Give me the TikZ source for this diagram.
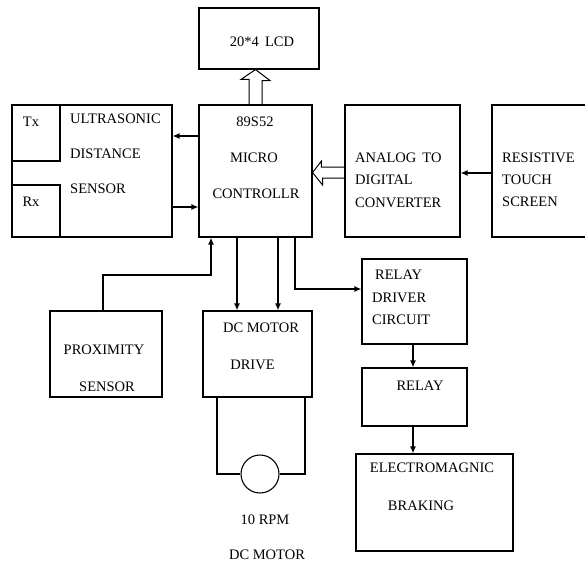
\documentclass[tikz,border=0pt]{standalone}
\usepackage{fontspec}
\setmainfont{Liberation Serif}
\usepackage{tikz}
\usetikzlibrary{arrows.meta,positioning,calc}

\begin{document}
\begin{tikzpicture}[
		x=1pt,y=-1pt,
		every node/.style={
			font=\fontsize{14.5}{16}\selectfont,
			inner sep=0pt
		},
		blk/.style={
			draw,
			line width=1.1pt
		},
		txt/.style={anchor=west},
		arr/.style={-{Latex[length=7pt,width=6pt]},line width=1.6pt},
		wire/.style={line width=1.1pt},
		hollow/.style={line width=1pt,line join=miter}
		]
		
		\clip (0,0) rectangle (585,566);
		
		% blocks
		\node[blk,minimum width=120,minimum height=61] (lcd) at (259,38.5) {};
		\node[blk,minimum width=113,minimum height=132] (mcu) at (255.5,171) {};
		\node[blk,minimum width=160,minimum height=132] (us) at (92,171) {};
		\node[blk,minimum width=48,minimum height=56] (tx) at (36,133) {};
		\node[blk,minimum width=48,minimum height=52] (rx) at (36,211) {};
		\node[blk,minimum width=115,minimum height=132] (adc) at (402.5,171) {};
		\node[blk,minimum width=118,minimum height=132] (touch) at (551,171) {};
		\node[blk,minimum width=112,minimum height=86] (prox) at (106,354) {};
		\node[blk,minimum width=109,minimum height=86] (drive) at (257.5,354) {};
		\node[blk,minimum width=105,minimum height=85] (rdrv) at (414.5,301.5) {};
		\node[blk,minimum width=105,minimum height=58] (relay) at (414.5,397) {};
		\node[blk,minimum width=157,minimum height=97] (emb) at (434.5,502.5) {};
		\node[draw,line width=1.1pt,circle,minimum size=38] (motor) at (260,474) {};
		
		% texts
		\node (lcdtxt) at (262,42) {20*4\, LCD};
		\node (txtxt) at (31,122) {Tx};
		\node (rxtxt) at (31,202) {Rx};
		\node[txt] (ustxt1) at (70,119) {ULTRASONIC};
		\node[txt] (ustxt2) at (70,154) {DISTANCE};
		\node[txt] (ustxt3) at (70,189) {SENSOR};
		\node (mcutxt1) at (255,122) {89S52};
		\node (mcutxt2) at (254,158) {MICRO};
		\node (mcutxt3) at (256,194) {CONTROLLR};
		\node[txt] (adctxt1) at (355,158) {ANALOG\, TO};
		\node[txt] (adctxt2) at (355,180) {DIGITAL};
		\node[txt] (adctxt3) at (355,203) {CONVERTER};
		\node[txt] (tchtxt1) at (502,158) {RESISTIVE};
		\node[txt] (tchtxt2) at (502,180) {TOUCH};
		\node[txt] (tchtxt3) at (502,202) {SCREEN};
		\node (proxtxt1) at (104,350) {PROXIMITY};
		\node (proxtxt2) at (107,387) {SENSOR};
		\node (drvtxt1) at (261,328) {DC MOTOR};
		\node (drvtxt2) at (252.5,365) {DRIVE};
		\node[txt] (rdtxt1) at (375,275) {RELAY};
		\node[txt] (rdtxt2) at (372,298) {DRIVER};
		\node[txt] (rdtxt3) at (372,320) {CIRCUIT};
		\node (reltxt) at (420,386) {RELAY};
		\node (embtxt1) at (432,468) {ELECTROMAGNIC};
		\node (embtxt2) at (421,506) {BRAKING};
		\node (mottxt1) at (265,520) {10 RPM};
		\node (mottxt2) at (267,555) {DC MOTOR};
		
		\coordinate (pj) at (211,275);
		
		% connectors
		\draw[arr] ([yshift=35pt]mcu.west)--([yshift=35pt]us.east);
		\draw[arr] ([yshift=-36pt]us.east)--([yshift=-36pt]mcu.west);
		\draw[arr] ([yshift=-2pt]touch.west)--([yshift=-2pt]adc.east);
		\draw[arr] ([xshift=-18.5pt]mcu.south)--([xshift=-18.5pt]mcu.south |- drive.north);
		\draw[arr] ([xshift=22.5pt]mcu.south)--([xshift=22.5pt]mcu.south |- drive.north);
		\draw[arr] ([xshift=39.5pt]mcu.south) |- ([yshift=12.5pt]rdrv.west);
		\draw[arr] ([xshift=-3pt]prox.north) |- (pj) -- (pj |- mcu.south);
		\draw[arr] ([xshift=-1.5pt]rdrv.south)--([xshift=-1.5pt]relay.north);
		\draw[arr] ([xshift=-1.5pt]relay.south)--([xshift=-1.5pt]relay.south |- emb.north);
		
		\draw[wire] ([xshift=-40.5pt]drive.south) |- (motor.west);
		\draw[wire] ([xshift=47.5pt]drive.south) |- (motor.east);
		
		% hollow arrows
		\draw[hollow] ([xshift=-6.5pt]mcu.north) -- ++(0,-25) -- ++(-8,0) -- (mcu.north |- lcd.south) -- ++(14.5,11) -- ++(-8,0) -- ([xshift=6.5pt]mcu.north);
		\draw[hollow] ([yshift=4pt]adc.west) -- ++(-23,0) -- ++(0,-6) -- ([yshift=-1.5pt]mcu.east) -- ++(10,12.5) -- ++(0,-7) -- ([yshift=-7pt]adc.west);
		
	\end{tikzpicture}
\end{document}
